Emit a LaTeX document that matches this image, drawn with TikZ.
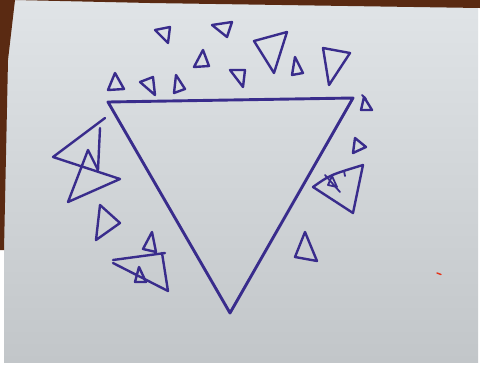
\documentclass[tikz,border=0pt]{standalone}
\begin{document}
\begin{tikzpicture}[x=1pt,y=-1pt,
  ink/.style={draw=inkc,line width=2.4pt,line cap=round,line join=round},
  bigink/.style={draw=inkc,line width=2.9pt,line cap=round,line join=round},
  thin/.style={draw=inkc,line width=1.8pt,line cap=round,line join=round}]
\definecolor{inkc}{HTML}{392C8C}
\definecolor{brownc}{HTML}{5A2A12}
\useasboundingbox (0,0) rectangle (480,365);
\fill[white] (0,0) rectangle (480,365);
\shade[top color={rgb,255:red,224;green,228;blue,231},bottom color={rgb,255:red,194;green,198;blue,201}] (4,0) rectangle (478,362);
\fill[brownc] (0,0) -- (15,0) -- (8,60) -- (4,250) -- (0,250) -- cycle;
\fill[brownc] (15,0) -- (480,0) -- (480,8) -- (150,3) -- cycle;
\draw[red!60!brown,line width=1.4pt,line cap=round] (437,273) -- (441,274.5);
% main triangle
\coordinate (A) at (108,102);
\coordinate (B) at (353,98);
\coordinate (C) at (230,313);
\draw[bigink] (A) -- (B) -- (C) -- cycle;
% top arc of small triangles
\draw[ink] (155,30) -- (170,27) -- (168,43) -- cycle;
\draw[ink] (212,25) -- (232,22) -- (227,37) -- cycle;
\draw[ink] (254,41) -- (287,32) -- (274,73) -- cycle;
\draw[ink] (323,48) -- (350,53) -- (329,85) -- cycle;
\draw[ink] (194,67) -- (209,66) -- (203,50) -- cycle;
\draw[ink] (230,70) -- (245,70) -- (243,87) -- cycle;
\draw[ink] (292,75) -- (303,73) -- (295,57) -- cycle;
\draw[ink] (108,90) -- (124,89) -- (115,73) -- cycle;
\draw[ink] (140,82) -- (153,77) -- (155,95) -- cycle;
\draw[ink] (174,93) -- (185,89) -- (176,75) -- cycle;
% right side
\draw[ink] (361,110) -- (372,110) -- (364,97) -- cycle;
\draw[thin] (362,95) -- (366,99);
\draw[ink] (355,138) -- (353,153) -- (366,147) -- cycle;
\draw[ink] (313,187) .. controls (330,175) .. (363,165) -- (353,213) -- cycle;
\draw[thin] (328,185) -- (332,176) -- (337,187) -- cycle;
\draw[thin] (325,175) -- (340,192);
\draw[thin] (344,171) -- (345,176);
\draw[ink] (305,232) -- (295,257) -- (317,261) -- cycle;
% left cluster
\draw[ink] (105,118) -- (53,157) -- (120,179) -- (68,202) -- (88,150) -- (98,170);
\draw[ink] (100,128) -- (98,170);
\draw[ink] (100,205) -- (120,223) -- (96,240) -- cycle;
% bottom-left cluster
\draw[ink] (152,232) -- (143,249) -- (156,252) -- cycle;
\draw[ink] (113,260) -- (165,253);
\draw[ink] (113,263) -- (168,291) -- (162,253);
\draw[ink] (139,267) -- (135,282) -- (146,282) -- cycle;
\end{tikzpicture}
\end{document}
